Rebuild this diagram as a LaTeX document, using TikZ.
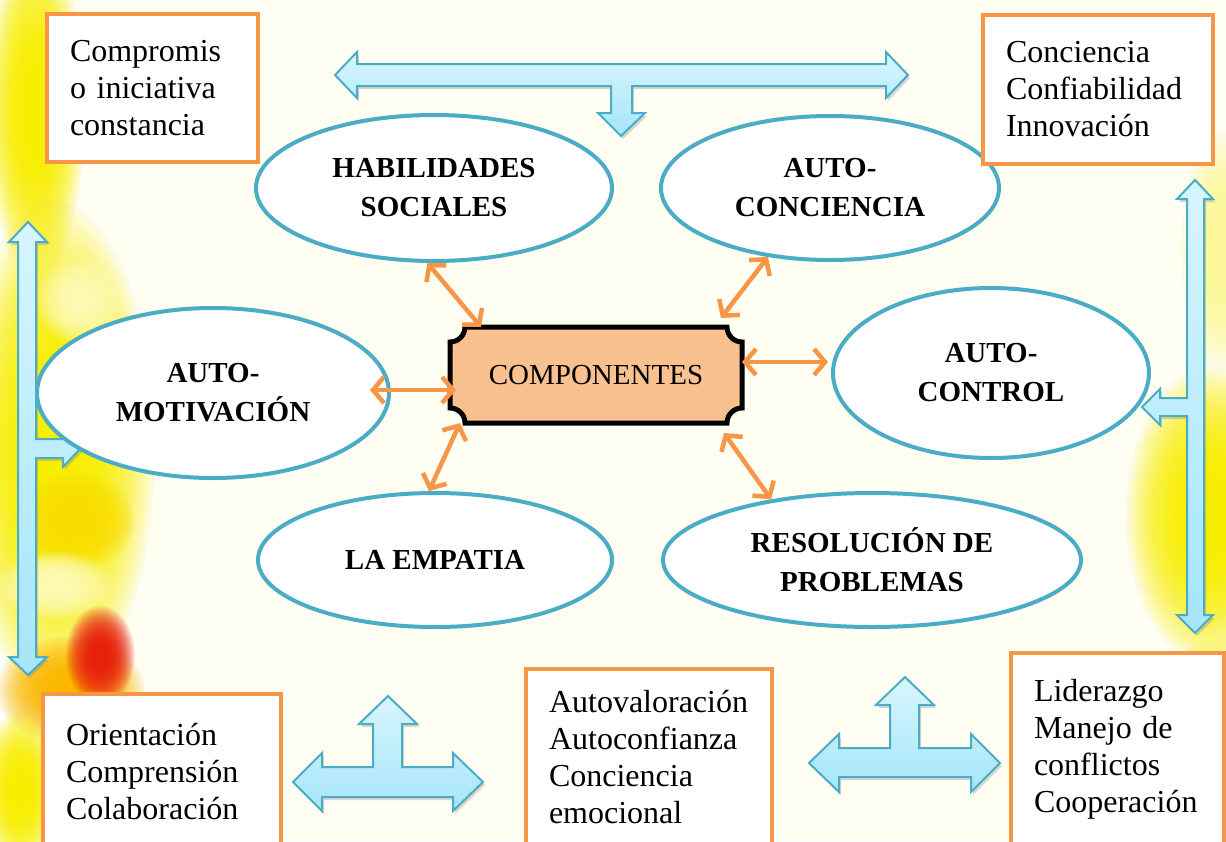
\documentclass[tikz,border=0pt]{standalone}
\usepackage{fontspec}
\setmainfont{Liberation Serif}
\usepackage{tikz}
\usetikzlibrary{shapes.geometric,arrows.meta,calc,shadows,fadings}

\definecolor{orangeline}{HTML}{F79646}
\definecolor{blueline}{HTML}{4BACC6}
\definecolor{plaquefill}{HTML}{F9C090}
\definecolor{arrowtop}{HTML}{D8F5FD}
\definecolor{arrowbottom}{HTML}{A6E5FA}
\definecolor{paper}{HTML}{FFFEF3}
\definecolor{sunyellow}{HTML}{F8EE00}
\definecolor{petalred}{HTML}{E8200C}

\tikzfading[name=softblob, inner color=transparent!0, outer color=transparent!100]

\begin{document}
\begin{tikzpicture}[
    x=1pt, y=-1pt,
    oval/.style={ellipse, draw=blueline, line width=4pt, fill=white, inner sep=0pt, align=center, font=\fontsize{29}{39}\selectfont\bfseries},
    textbox/.style={draw=orangeline, line width=4pt, fill=white, inner xsep=23pt, inner ysep=0pt, align=left, font=\fontsize{32}{37}\selectfont},
    plaque/.style={draw=black, line width=5pt, fill=plaquefill},
    link/.style={draw=orangeline, line width=4.5pt, >={Straight Barb[length=11pt,width=26pt]}, <->},
    blockarrow/.style={draw=blueline, line width=2pt, top color=arrowtop, bottom color=arrowbottom, drop shadow={opacity=0.3, shadow xshift=2pt, shadow yshift=-3pt}},
    blob/.style={path fading=softblob}
]
    \useasboundingbox (0,0) rectangle (1226,841);
    \clip (0,0) rectangle (1226,841);
    \fill[white] (0,0) rectangle (1226,841);
    \fill[paper] (8,0) rectangle (1226,841);

    \foreach \bx/\by/\rx/\ry/\col in {
        35/110/50/170/sunyellow,
        55/450/100/250/sunyellow,
        80/300/45/45/white!70!sunyellow,
        75/520/60/50/orange!15!sunyellow,
        55/585/60/35/white!70!sunyellow,
        70/690/75/55/orange!50!sunyellow,
        100/655/35/50/petalred,
        20/790/40/80/sunyellow,
        1210/515/85/150/sunyellow,
        1220/250/40/120/sunyellow!40,
        1215/700/40/70/sunyellow!60}
    {
        \foreach \k in {1,2,3}
            \fill[\col, blob] (\bx,\by) ellipse [x radius=\rx, y radius=\ry];
    }

    \path[blockarrow] (335,75) -- (357,52) -- (357,64) -- (886,64) -- (886,52) -- (908,75) -- (886,98) -- (886,86) -- (632,86) -- (632,113) -- (645,113) -- (621,136) -- (598,113) -- (611,113) -- (611,86) -- (357,86) -- (357,98) -- cycle;
    \path[blockarrow] (28,222) -- (47,242) -- (36,242) -- (36,439) -- (63,439) -- (63,431) -- (80,449) -- (63,467) -- (63,458) -- (36,458) -- (36,657) -- (47,657) -- (28,675) -- (9,657) -- (18,657) -- (18,242) -- (9,242) -- cycle;
    \path[blockarrow] (1195,180) -- (1213,199) -- (1204,199) -- (1204,615) -- (1213,615) -- (1195,633) -- (1177,615) -- (1187,615) -- (1187,416) -- (1160,416) -- (1160,425) -- (1142,407) -- (1160,389) -- (1160,398) -- (1187,398) -- (1187,199) -- (1177,199) -- cycle;
    \path[blockarrow] (293,782) -- (322,753) -- (322,767) -- (373,767) -- (373,724) -- (359,724) -- (388,696) -- (417,724) -- (402,724) -- (402,767) -- (453,767) -- (453,753) -- (483,782) -- (453,811) -- (453,797) -- (322,797) -- (322,811) -- cycle;
    \path[blockarrow] (809,763) -- (839,734) -- (839,748) -- (890,748) -- (890,705) -- (876,705) -- (905,677) -- (934,705) -- (919,705) -- (919,748) -- (971,748) -- (971,734) -- (1000,763) -- (971,792) -- (971,777) -- (839,777) -- (839,792) -- cycle;

    \node[oval, minimum width=356pt, minimum height=146pt] (habil) at (434,188) {HABILIDADES\\SOCIALES};
    \node[oval, minimum width=338pt, minimum height=144pt] (conc) at (830,188) {AUTO-\\CONCIENCIA};
    \node[oval, minimum width=316pt, minimum height=170pt] (ctrl) at (991,373) {AUTO-\\CONTROL};
    \node[oval, minimum width=352pt, minimum height=170pt] (motiv) at (213,393) {AUTO-\\MOTIVACIÓN};
    \node[oval, minimum width=354pt, minimum height=134pt] (empat) at (435,560) {LA EMPATIA};
    \node[oval, minimum width=418pt, minimum height=134pt] (resol) at (872,560) {RESOLUCIÓN DE\\PROBLEMAS};

    \node[textbox, text width=165pt, minimum height=148pt] (compromiso) at (152.5,88) {Compromis\\o iniciativa\\constancia};
    \node[textbox, text width=184pt, minimum height=149pt] (conciencia) at (1098,89.5) {Conciencia\\Confiabilidad\\Innovación};
    \node[textbox, text width=192pt, minimum height=156pt] (orientacion) at (162,772) {Orientación\\Comprensión\\Colaboración};
    \node[textbox, text width=200pt, minimum height=177pt] (autovaloracion) at (649,757.5) {Autovaloración\\Autoconfianza\\Conciencia\\emocional};
    \node[textbox, text width=167pt, minimum height=193pt] (liderazgo) at (1117.5,749.5) {Liderazgo\\Manejo de\\conflictos\\Cooperación};

    \filldraw[plaque] (465,327) -- (727,327) arc[start angle=180, end angle=270, radius=15pt] -- (742,408) arc[start angle=90, end angle=180, radius=15pt] -- (465,423) arc[start angle=0, end angle=90, radius=15pt] -- (450,342) arc[start angle=270, end angle=360, radius=15pt] -- cycle;
    \node[font=\fontsize{29}{34}\selectfont, minimum width=292pt, minimum height=96pt, outer sep=0pt] (comp) at (596,375) {COMPONENTES};

    \draw[link] (habil.265) -- ($(comp.north west)+(31,0)$);
    \draw[link] (conc.228) -- ($(comp.north east)+(-21,-9)$);
    \draw[link] ($(comp.east)+(0,-13)$) -- ($(ctrl.west)+(-3,-11)$);
    \draw[link] ($(motiv.east)+(-21,-3)$) -- ($(comp.west)+(6,15)$);
    \draw[link] ($(comp.south west)+(10,0)$) -- (empat.95);
    \draw[link] ($(comp.south east)+(-18,10)$) -- (resol.149);
\end{tikzpicture}
\end{document}
